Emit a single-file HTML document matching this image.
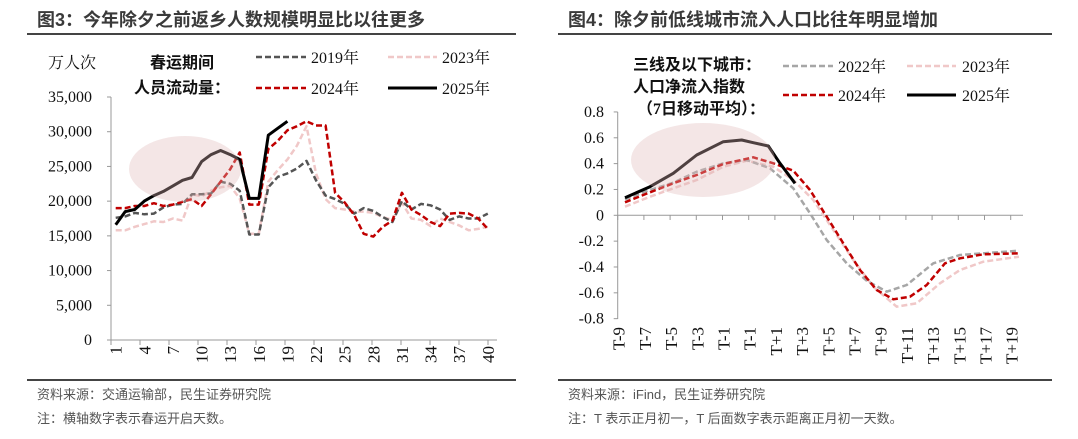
<!DOCTYPE html>
<html><head><meta charset="utf-8"><style>
body{margin:0;background:#fff;width:1078px;height:439px;overflow:hidden}
svg{display:block}
.t{font-family:"Liberation Sans","Noto Sans CJK SC",sans-serif;font-weight:bold;font-size:18px;fill:#3a3a3a}
.f{font-family:"Liberation Sans","Noto Sans CJK SC",sans-serif;font-size:13px;fill:#555}
.s{font-family:"Liberation Serif","Noto Serif CJK SC",serif;font-size:16px;fill:#111}
.x{font-family:"Liberation Serif","Noto Serif CJK SC",serif;font-size:17px;fill:#111}
.b{font-family:"Liberation Serif","Noto Sans CJK SC",sans-serif;font-size:16px;font-weight:bold;fill:#111}
</style></head><body>
<svg id="g" width="1078" height="439" xmlns="http://www.w3.org/2000/svg">
<text class="t" x="37" y="26">图3：今年除夕之前返乡人数规模明显比以往更多</text>
<text class="t" x="568" y="26">图4：除夕前低线城市流入人口比往年明显增加</text>
<line x1="27" y1="34" x2="516" y2="34" stroke="#444" stroke-width="2"/>
<line x1="558" y1="34" x2="1052" y2="34" stroke="#444" stroke-width="2"/>
<line x1="27" y1="380" x2="516" y2="380" stroke="#444" stroke-width="2"/>
<line x1="558" y1="380" x2="1052" y2="380" stroke="#444" stroke-width="2"/>
<text class="f" x="37" y="399">资料来源：交通运输部，民生证券研究院</text>
<text class="f" x="37" y="423">注：横轴数字表示春运开启天数。</text>
<text class="f" x="568" y="399">资料来源：iFind，民生证券研究院</text>
<text class="f" x="568" y="423">注：T 表示正月初一，T 后面数字表示距离正月初一天数。</text>

<text class="s" x="48" y="68">万人次</text>
<text class="b" x="150" y="68">春运期间</text>
<text class="b" x="134" y="93">人员流动量：</text>
<line x1="256" y1="57" x2="306" y2="57" stroke="#555" stroke-width="2.5" stroke-dasharray="6,3"/>
<text class="s" x="311" y="63">2019年</text>
<line x1="388" y1="57" x2="437" y2="57" stroke="#f0c8c8" stroke-width="2.5" stroke-dasharray="6,3"/>
<text class="s" x="442" y="63">2023年</text>
<line x1="256" y1="88" x2="306" y2="88" stroke="#c00000" stroke-width="2.5" stroke-dasharray="6,3"/>
<text class="s" x="311" y="94">2024年</text>
<line x1="388" y1="88" x2="437" y2="88" stroke="#000" stroke-width="3"/>
<text class="s" x="442" y="94">2025年</text>

<text class="b" x="633" y="70">三线及以下城市：</text>
<text class="b" x="633" y="92">人口净流入指数</text>
<text class="b" x="637" y="114">（7日移动平均）：</text>
<line x1="783" y1="66" x2="833" y2="66" stroke="#a6a6a6" stroke-width="2.5" stroke-dasharray="6,3"/>
<text class="s" x="838" y="72">2022年</text>
<line x1="907" y1="66" x2="956" y2="66" stroke="#f0c8c8" stroke-width="2.5" stroke-dasharray="6,3"/>
<text class="s" x="962" y="72">2023年</text>
<line x1="783" y1="95" x2="833" y2="95" stroke="#c00000" stroke-width="2.5" stroke-dasharray="6,3"/>
<text class="s" x="838" y="101">2024年</text>
<line x1="907" y1="95" x2="956" y2="95" stroke="#000" stroke-width="3"/>
<text class="s" x="962" y="101">2025年</text>
</svg>
<script>
var svg=document.getElementById('g'),NS='http://www.w3.org/2000/svg';
function el(n,a,txt){var e=document.createElementNS(NS,n);for(var k in a)e.setAttribute(k,a[k]);if(txt!=null)e.textContent=txt;svg.appendChild(e);return e;}
var LX=111,Y0=340,YS=(340-97)/35000;
function lx(i){return 115.7+(i-1)*9.54}
function ly(v){return Y0-v*YS}
el('line',{x1:LX,y1:97,x2:LX,y2:340,stroke:'#999'});
el('line',{x1:LX,y1:340,x2:497,y2:340,stroke:'#999'});
for(var v=0;v<=35000;v+=5000){var y=ly(v);el('line',{x1:LX-4,y1:y,x2:LX,y2:y,stroke:'#999'});
el('text',{class:'s',x:92,y:y+5,'text-anchor':'end'},v.toLocaleString('en-US'));}
for(var k=0;k<14;k++){var x=LX+k*29;el('line',{x1:x,y1:340,x2:x,y2:345,stroke:'#999'});
var lab=1+3*k;var tx=lx(lab);el('text',{class:'x',x:0,y:0,transform:'translate('+(tx+6)+',346) rotate(-90)','text-anchor':'end'},lab);}
function lp(d,st,w,da){var p=d.map(function(v,i){return lx(i+1).toFixed(1)+','+ly(v).toFixed(1)}).join(' ');
var a={points:p,fill:'none',stroke:st,'stroke-width':w,'stroke-linejoin':'round'};if(da)a['stroke-dasharray']=da;el('polyline',a);}
var d23=[15800,15800,16300,16700,17100,17000,17500,17200,21000,20700,21500,22000,22200,20400,15300,15300,22800,24500,26000,28000,30800,24000,20300,19000,18800,18500,18500,18300,17700,17300,19800,17500,17300,16400,17500,17000,16500,15800,16000,16300];
var d19=[17600,17800,18300,18100,18200,19100,19500,19600,21000,21000,21100,22800,22500,21500,15200,15200,22000,23500,24000,24700,25800,23000,20800,20300,19600,18200,19000,18600,17700,17000,20000,18800,19600,19400,18800,17300,17800,17500,17500,18200];
var d24=[19000,19000,19300,19300,19700,19300,19500,19900,20300,19300,21000,22800,24600,27000,19500,19500,27500,28700,30200,30800,31500,30900,30900,21200,19800,18000,15300,14900,16300,17200,21200,18800,18000,17000,16400,18200,18300,18200,17500,16000];
var d25=[16600,18500,18800,20000,20800,21400,22200,23000,23400,25700,26700,27300,26700,26000,20400,20400,29500,30500,31500];
lp(d23,'#f0c8c8',2.5,'6,3');lp(d19,'#555',2.5,'6,3');lp(d24,'#c00000',2.5,'6,3');lp(d25,'#000',3);
el('ellipse',{cx:185,cy:169,rx:56,ry:33,fill:'#e0b8b8','fill-opacity':0.35});
var RX=617.7;function ry(v){return 215.3-v*129.2}
el('line',{x1:RX,y1:112,x2:RX,y2:319,stroke:'#999'});
el('line',{x1:RX,y1:215.3,x2:1023,y2:215.3,stroke:'#999'});
for(var v=-4;v<=4;v++){var y=ry(v*0.2);el('line',{x1:RX-4,y1:y,x2:RX,y2:y,stroke:'#999'});
var s=v==0?'0':(v*0.2).toFixed(1);el('text',{class:'s',x:604,y:y+5,'text-anchor':'end'},s);}
var labs=['T-9','T-7','T-5','T-3','T-1','T-1','T+1','T+3','T+5','T+7','T+9','T+11','T+13','T+15','T+17','T+19'];
for(var k=0;k<16;k++){var x=RX+k*26.2;el('line',{x1:x,y1:215.3,x2:x,y2:220,stroke:'#999'});
el('text',{class:'x',x:0,y:0,transform:'translate('+(x+7)+',327) rotate(-90)','text-anchor':'end'},labs[k]);}
function rp(pts,st,w,da){var p=pts.map(function(q){return (q[0]/3+540).toFixed(1)+','+(q[1]/3+40).toFixed(1)});
var d='M'+p[0];for(var i=1;i<pts.length;i++)d+=' L'+p[i];
var a={d:d,fill:'none',stroke:st,'stroke-width':w,'stroke-linejoin':'round'};if(da)a['stroke-dasharray']=da;el('path',a);}
rp([[255,500],[330,470],[400,445],[470,420],[550,380],[620,362],[700,380],[760,420],[820,480],[880,570],[940,660],[1000,740],[1070,800],[1130,790],[1200,730],[1260,690],[1330,665],[1437,650]],'#f0c8c8',2.5,'6,3');
rp([[255,478],[330,450],[400,428],[470,395],[550,370],[620,360],[690,385],[760,445],[810,520],[860,600],[920,670],[980,722],[1040,755],[1100,735],[1180,670],[1260,645],[1437,632]],'#a6a6a6',2.5,'6,3');
rp([[255,487],[330,457],[400,430],[470,405],[550,372],[640,352],[700,370],[760,392],[810,450],[860,530],[910,610],[960,690],[1010,750],[1060,778],[1110,770],[1160,735],[1215,670],[1260,655],[1330,643],[1437,640]],'#c00000',2.5,'6,3');
rp([[255,473],[330,440],[400,400],[470,345],[550,305],[605,300],[640,308],[685,318],[720,370],[765,430]],'#000',3);
el('ellipse',{cx:703,cy:160,rx:72,ry:37,fill:'#e0b8b8','fill-opacity':0.35});
</script>
</body></html>
